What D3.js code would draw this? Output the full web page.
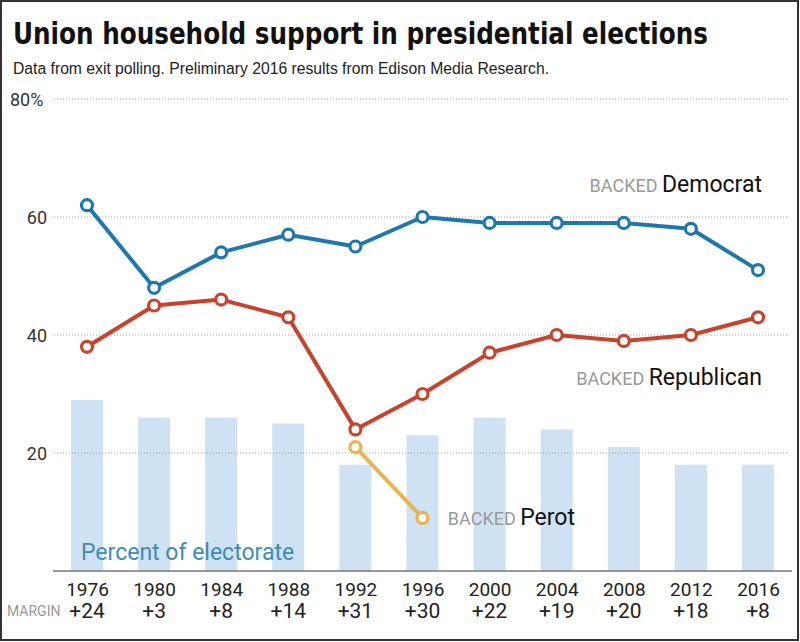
<!DOCTYPE html>
<html><head><meta charset="utf-8">
<script src="https://cdn.jsdelivr.net/npm/d3@7"></script>
<style>body{margin:0;background:#fff}svg{display:block}</style>
</head><body><svg id="c" width="800" height="642"></svg>
<script>
const years = ["1976","1980","1984","1988","1992","1996","2000","2004","2008","2012","2016"];
const democrat = [62,48,54,57,55,60,59,59,59,58,51];
const republican = [38,45,46,43,24,30,37,40,39,40,43];
const perotYears = ["1992","1996"];
const perot = [21,9];
const electorate = [29,26,26,25,18,23,26,24,21,18,18];
const margins = ["+24","+3","+8","+14","+31","+30","+22","+19","+20","+18","+8"];
const yTicks = [20,40,60,80];

const svg = d3.select("#c");
const x = d3.scalePoint().domain(years).range([87,758]);
const y = d3.scaleLinear().domain([0,80]).range([571,99]);

// frame
svg.append("rect").attr("x",1).attr("y",1).attr("width",797).attr("height",639)
  .attr("fill","none").attr("stroke","#333").attr("stroke-width",2);

// title
svg.append("text").attr("x",13).attr("y",44).attr("textLength",695).attr("lengthAdjust","spacingAndGlyphs")
  .style("font-family","'Liberation Sans Narrow','DejaVu Sans Condensed',sans-serif").style("font-weight","bold")
  .style("font-size","30px").attr("fill","#111").text("Union household support in presidential elections");
svg.append("text").attr("x",13).attr("y",74).attr("textLength",536).attr("lengthAdjust","spacingAndGlyphs")
  .style("font-family","'Liberation Sans Narrow',sans-serif").style("font-size","16px").attr("fill","#222")
  .text("Data from exit polling. Preliminary 2016 results from Edison Media Research.");

// bars
const bw = 32;
svg.append("g").selectAll("rect").data(years).join("rect")
  .attr("x",d=>x(d)-bw/2).attr("width",bw)
  .attr("y",(d,i)=>y(electorate[i])).attr("height",(d,i)=>y(0)-y(electorate[i]))
  .attr("fill","#cfe2f4");

// grid + y labels
const yAxis = d3.axisLeft(y).tickValues(yTicks).tickSize(0).tickFormat(d=>d===80?"80%":d);
const gy = svg.append("g").attr("transform","translate(47,0)").call(yAxis);
gy.select(".domain").remove();
gy.selectAll("text").attr("x",0).attr("dy","0.36em").attr("fill","#333")
  .style("font-family","Roboto,'Noto Sans',sans-serif").style("font-size","18px")
  .attr("text-anchor",d=>d===80?"start":"end")
  .attr("transform",d=>d===80?"translate(-37,0)":null);
svg.append("g").selectAll("line").data(yTicks).join("line")
  .attr("x1",54).attr("x2",788).attr("y1",d=>y(d)).attr("y2",d=>y(d))
  .attr("stroke","#999").attr("stroke-width",1).attr("stroke-dasharray","1,2");

// baseline
svg.append("line").attr("x1",53).attr("x2",792).attr("y1",y(0)).attr("y2",y(0))
  .attr("stroke","#777").attr("stroke-width",1.5);

// x axis labels
const xAxis = d3.axisBottom(x).tickSize(0).tickPadding(0);
const gx = svg.append("g").attr("transform","translate(0,581)").call(xAxis);
gx.select(".domain").remove();
gx.selectAll("text").attr("dy","0.8em").attr("fill","#222")
  .style("font-family","Roboto,'Noto Sans',sans-serif").style("font-size","19px");
svg.append("g").selectAll("text").data(years).join("text")
  .attr("x",d=>x(d)).attr("y",618).attr("text-anchor","middle").attr("fill","#222")
  .style("font-family","Roboto,'Noto Sans',sans-serif").style("font-size","21px")
  .text((d,i)=>margins[i]);
svg.append("text").attr("x",7).attr("y",616).attr("fill","#999")
  .style("font-family","Roboto,'Noto Sans',sans-serif").style("font-size","14px").text("MARGIN");

// Percent of electorate
svg.append("text").attr("x",81).attr("y",560).attr("fill","#3c8db8")
  .style("font-family","Roboto,'Noto Sans',sans-serif").style("font-size","23px").text("Percent of electorate");

// lines
function series(xs, vals, color){
  const pts = xs.map((d,i)=>[x(d),y(vals[i])]);
  svg.append("path").attr("d",d3.line()(pts)).attr("fill","none")
    .attr("stroke",color).attr("stroke-width",4).attr("stroke-linejoin","round");
  svg.append("g").selectAll("circle").data(pts).join("circle")
    .attr("cx",p=>p[0]).attr("cy",p=>p[1]).attr("r",5.5)
    .attr("fill","#fff").attr("stroke",color).attr("stroke-width",3.2);
}
series(perotYears, perot, "#ebb252");
series(years, republican, "#c8432c");
series(years, democrat, "#1f77b0");

// labels
function label(xEnd, yb, name){
  const t = svg.append("text").attr("x",xEnd).attr("y",yb).attr("text-anchor","end")
    .style("font-family","Roboto,'Noto Sans',sans-serif");
  t.append("tspan").attr("fill","#999").style("font-size","18px").text("BACKED ");
  t.append("tspan").attr("fill","#111").style("font-size","23px").text(name);
}
label(762,192,"Democrat");
label(762,385,"Republican");
label(575,525,"Perot");
</script></body></html>
